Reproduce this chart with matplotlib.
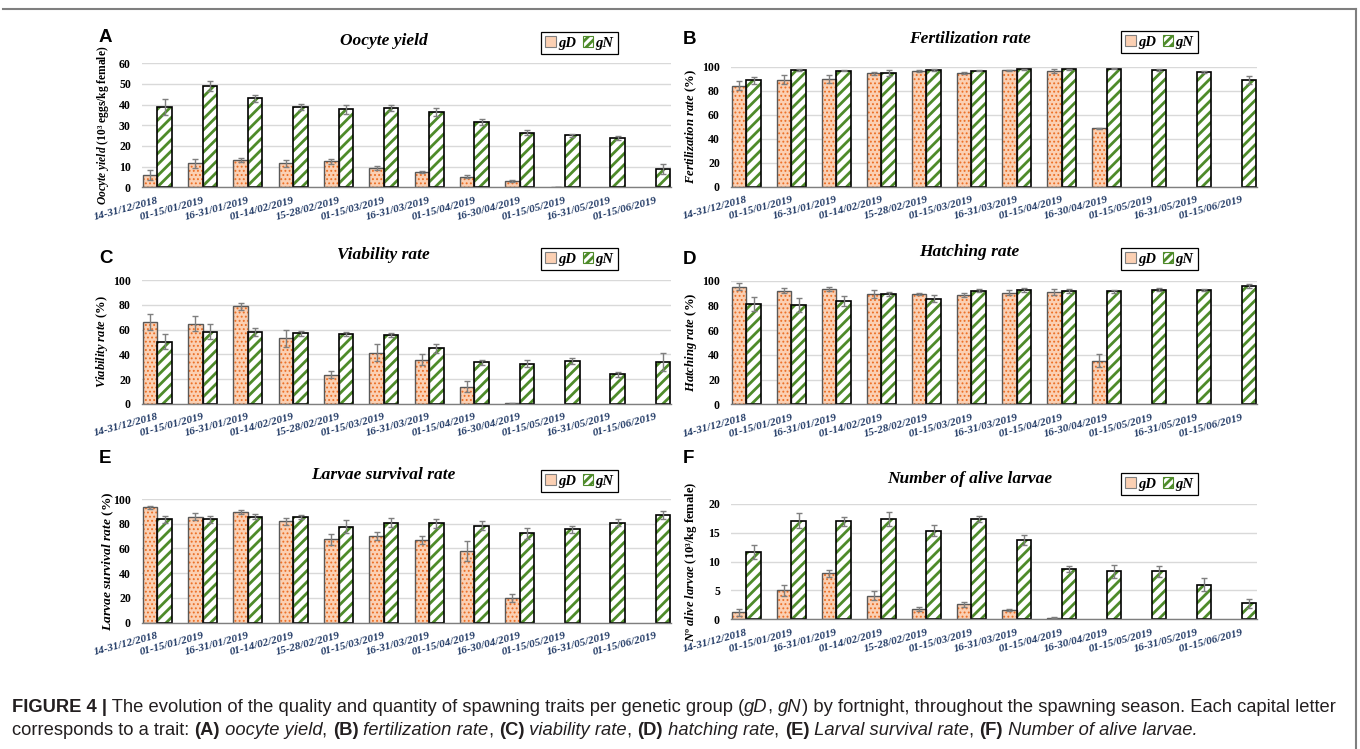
"""
Figure 4: spawning traits per genetic group (gD, gN) by fortnight
"""
import numpy as np
import matplotlib
matplotlib.use('Agg')
import matplotlib.pyplot as plt
from matplotlib.patches import Patch
from matplotlib.lines import Line2D

nan = np.nan

dates = ['14-31/12/2018', '01-15/01/2019', '16-31/01/2019', '01-14/02/2019',
         '15-28/02/2019', '01-15/03/2019', '16-31/03/2019', '01-15/04/2019',
         '16-30/04/2019', '01-15/05/2019', '16-31/05/2019', '01-15/06/2019']

# (A) oocyte yield, 10^3 eggs/kg female
oocyte_gd = [5.8, 11.6, 13.1, 11.6, 12.6, 9.4, 7.6, 5.2, 2.9, 0.2, nan, nan]
oocyte_gd_err = [2.4, 2.3, 1.1, 1.8, 1.2, 0.9, 0.5, 0.6, 0.4, 0.1, nan, nan]
oocyte_gn = [39.0, 48.9, 43.1, 38.7, 37.7, 38.2, 36.5, 31.5, 26.5, 25.2, 23.7, 9.0]
oocyte_gn_err = [3.9, 2.4, 1.6, 1.5, 2.0, 1.5, 1.9, 1.4, 1.2, 0.8, 1.0, 2.5]

# (B) fertilization rate, %
fert_gd = [84.2, 89.2, 89.7, 94.4, 96.1, 95.0, 96.9, 96.7, 48.6, nan, nan, nan]
fert_gd_err = [4.0, 3.8, 3.0, 1.2, 0.8, 0.8, 0.6, 1.6, 0.3, nan, nan, nan]
fert_gn = [88.6, 96.9, 96.7, 94.7, 97.2, 96.7, 97.8, 97.8, 98.3, 97.2, 95.3, 88.6]
fert_gn_err = [3.0, 0.8, 0.7, 2.8, 0.8, 0.7, 0.5, 0.5, 0.3, 0.5, 0.8, 3.3]

# (C) viability rate, %
viab_gd = [65.9, 64.8, 78.8, 53.0, 23.7, 41.4, 35.8, 14.0, 0.6, nan, nan, nan]
viab_gd_err = [6.4, 6.2, 3.0, 7.0, 3.0, 6.7, 4.5, 4.3, 0.2, nan, nan, nan]
viab_gn = [50.3, 58.3, 58.3, 57.0, 56.5, 55.4, 44.9, 33.6, 32.5, 34.9, 23.9, 34.0]
viab_gn_err = [5.9, 6.2, 3.3, 2.1, 1.8, 1.6, 3.5, 1.9, 2.7, 2.5, 2.1, 7.0]

# (D) hatching rate, %
hatch_gd = [95.1, 91.9, 93.3, 88.9, 89.5, 88.1, 90.3, 91.1, 35.3, nan, nan, nan]
hatch_gd_err = [2.7, 2.2, 1.3, 3.3, 0.8, 1.6, 1.9, 2.4, 5.4, nan, nan, nan]
hatch_gn = [80.9, 80.3, 83.6, 89.2, 85.4, 91.9, 92.7, 91.9, 91.4, 92.7, 92.7, 95.7]
hatch_gn_err = [5.7, 5.7, 3.8, 1.6, 2.7, 1.1, 1.6, 1.6, 1.1, 1.1, 0.8, 1.3]

# (E) larvae survival rate, %
surv_gd = [93.3, 85.7, 89.5, 81.9, 67.4, 70.1, 67.1, 58.0, 19.7, nan, nan, nan]
surv_gd_err = [1.3, 2.7, 1.9, 3.0, 4.3, 3.5, 3.3, 8.0, 3.2, nan, nan, nan]
surv_gn = [83.6, 83.6, 85.7, 85.4, 77.6, 80.9, 80.3, 78.4, 72.2, 75.5, 81.0, 87.0]
surv_gn_err = [2.7, 2.9, 2.2, 1.9, 5.1, 3.5, 3.5, 3.8, 4.6, 3.0, 2.5, 3.5]

# (F) number of alive larvae, 10^3/kg female
alive_gd = [1.2, 5.0, 8.0, 4.1, 1.8, 2.6, 1.6, 0.3, nan, nan, nan, nan]
alive_gd_err = [0.6, 0.9, 0.6, 0.8, 0.3, 0.4, 0.2, 0.05, nan, nan, nan, nan]
alive_gn = [11.7, 17.1, 17.0, 17.4, 15.4, 17.4, 13.8, 8.7, 8.3, 8.3, 6.0, 2.8]
alive_gn_err = [1.2, 1.3, 0.8, 1.2, 0.9, 0.6, 0.9, 0.5, 1.2, 1.0, 1.1, 0.8]

W, H = 1360, 749
PEACH = '#fbd0b3'
ORANGE = '#ec6f25'
GREEN = '#4e8b2a'
NAVY = '#1f3864'
SERIF = 'Liberation Serif'
SANS = 'Liberation Sans'

plt.rcParams['mathtext.fontset'] = 'custom'
plt.rcParams['mathtext.rm'] = 'Liberation Serif:bold'
plt.rcParams['mathtext.it'] = 'Liberation Serif:italic:bold'
plt.rcParams['mathtext.bf'] = 'Liberation Serif:bold'
plt.rcParams['hatch.linewidth'] = 2.0


def fx(x):
    return x / W


def fy(y):
    return 1 - y / H


def hatch_lw(bars, lw):
    # per-artist hatch width where matplotlib supports it
    for p in bars:
        if hasattr(p, 'set_hatch_linewidth'):
            p.set_hatch_linewidth(lw)


def draw_panel(fig, rect, gd, gd_err, gn, gn_err, yticks, ylabel, ylabel_x,
               ylabel_size, title, title_xy, letter, letter_xy, legend_xy):
    left, right, top, bottom = rect
    ax = fig.add_axes([fx(left), fy(bottom), (right - left) / W, (bottom - top) / H])
    x = np.arange(len(dates))
    w = 0.32
    gd = np.array(gd, dtype=float)
    gn = np.array(gn, dtype=float)

    # hatched fills first, outlines on top
    b = ax.bar(x - w / 2, gd, w, color=PEACH, hatch='....', edgecolor=ORANGE,
               linewidth=0, zorder=2)
    hatch_lw(b, 0.85)
    ax.bar(x - w / 2, gd, w, fill=False, edgecolor='#595959', linewidth=1.0, zorder=3)
    ax.bar(x + w / 2, gn, w, color='white', hatch='///', edgecolor=GREEN,
           linewidth=0, zorder=2)
    ax.bar(x + w / 2, gn, w, fill=False, edgecolor='black', linewidth=1.2, zorder=3)
    ax.errorbar(x - w / 2, gd, yerr=gd_err, fmt='none', ecolor='#7f7f7f',
                elinewidth=1.0, capsize=2.5, capthick=1.0, zorder=4)
    ax.errorbar(x + w / 2, gn, yerr=gn_err, fmt='none', ecolor='#7f7f7f',
                elinewidth=1.0, capsize=2.5, capthick=1.0, zorder=4)

    ax.set_xlim(-0.34, 11.34)
    ax.set_ylim(yticks[0], yticks[-1])
    ax.set_yticks(yticks)
    ax.set_yticklabels([str(v) for v in yticks], fontfamily=SERIF,
                       fontweight='bold', fontsize=8.5)
    ax.set_xticks(x)
    ax.set_xticklabels(dates, rotation=15, ha='right', rotation_mode='anchor',
                       fontfamily=SERIF, fontweight='bold', fontstyle='italic',
                       fontsize=8, color=NAVY)
    ax.tick_params(axis='both', length=0)
    ax.tick_params(axis='x', pad=6)
    ax.tick_params(axis='y', pad=8)
    ax.grid(axis='y', color='#d9d9d9', linewidth=1.0, zorder=0)
    ax.set_axisbelow(True)
    for s in ['top', 'right', 'left']:
        ax.spines[s].set_visible(False)
    ax.spines['bottom'].set_color('#7f7f7f')
    ax.spines['bottom'].set_linewidth(1.0)
    ax.spines['bottom'].set_zorder(5)

    fig.text(fx(ylabel_x), fy((top + bottom) / 2), ylabel, rotation=90,
             ha='center', va='center', fontfamily=SERIF, fontweight='bold',
             fontsize=ylabel_size)
    fig.text(fx(title_xy[0]), fy(title_xy[1]), title, ha='center', va='baseline',
             fontfamily=SERIF, fontweight='bold', fontstyle='italic', fontsize=12.5)
    fig.text(fx(letter_xy[0]), fy(letter_xy[1]), letter, ha='left', va='baseline',
             fontfamily=SANS, fontweight='bold', fontsize=13.5)

    handles = [Patch(facecolor=PEACH, edgecolor='#7f7f7f', linewidth=0.8),
               Patch(facecolor='white', edgecolor=GREEN, hatch='////', linewidth=0.8)]
    leg = fig.legend(handles, ['gD', 'gN'], loc='upper left',
                     bbox_to_anchor=(fx(legend_xy[0]), fy(legend_xy[1])),
                     bbox_transform=fig.transFigure, ncol=2, frameon=True,
                     fancybox=False, framealpha=1, edgecolor='black',
                     handlelength=0.7, handleheight=0.7, handletextpad=0.15,
                     columnspacing=0.5, borderpad=0.3, borderaxespad=0,
                     prop={'family': SERIF, 'weight': 'bold', 'style': 'italic',
                           'size': 10.5})
    leg.get_frame().set_linewidth(0.9)
    return ax


def text_width(fig, renderer, s, **kw):
    # width of s including any edge spaces, measured between two sentinels
    t1 = fig.text(0, 0, 'x' + s + 'x', **kw)
    t2 = fig.text(0, 0, 'xx', **kw)
    w = t1.get_window_extent(renderer).width - t2.get_window_extent(renderer).width
    t1.remove()
    t2.remove()
    return w


def rich_line(fig, x, y, pieces, size):
    renderer = fig.canvas.get_renderer()
    xpx = x
    for s, weight, style in pieces:
        kw = dict(fontfamily=SANS, fontweight=weight, fontstyle=style,
                  fontsize=size, color='#231f20')
        fig.text(fx(xpx), fy(y), s, ha='left', va='baseline', **kw)
        xpx += text_width(fig, renderer, s, **kw)


fig = plt.figure(figsize=(W / 100, H / 100), dpi=100)

# outer frame of the figure panel
fig.add_artist(Line2D([fx(3), fx(1356)], [fy(9), fy(9)], color='#7f7f7f',
                      linewidth=1.5, transform=fig.transFigure))
fig.add_artist(Line2D([fx(1356), fx(1356)], [fy(9), 0], color='#7f7f7f',
                      linewidth=1.5, transform=fig.transFigure))

draw_panel(fig, (142, 671, 63.3, 187.3), oocyte_gd, oocyte_gd_err, oocyte_gn,
           oocyte_gn_err, [0, 10, 20, 30, 40, 50, 60],
           r'$\mathit{Oocyte\ yield}$ (10³ eggs/kg female)', 103, 8.3,
           'Oocyte yield', (383.5, 45), 'A', (99, 42), (541, 32))
draw_panel(fig, (731, 1257, 66.7, 186.7), fert_gd, fert_gd_err, fert_gn,
           fert_gn_err, [0, 20, 40, 60, 80, 100],
           r'$\mathit{Fertilization\ rate\ (\%)}$', 691, 9.2,
           'Fertilization rate', (970, 43), 'B', (683, 44), (1121, 31))
draw_panel(fig, (142, 671, 280, 404), viab_gd, viab_gd_err, viab_gn,
           viab_gn_err, [0, 20, 40, 60, 80, 100],
           r'$\mathit{Viability\ rate\ (\%)}$', 102, 9.0,
           'Viability rate', (383, 259), 'C', (99, 263), (541, 248))
draw_panel(fig, (731, 1257, 280.7, 404.3), hatch_gd, hatch_gd_err, hatch_gn,
           hatch_gn_err, [0, 20, 40, 60, 80, 100],
           r'$\mathit{Hatching\ rate\ (\%)}$', 691, 9.2,
           'Hatching rate', (969, 256), 'D', (683, 264), (1121, 248))
draw_panel(fig, (142, 671, 499, 622.7), surv_gd, surv_gd_err, surv_gn,
           surv_gn_err, [0, 20, 40, 60, 80, 100],
           r'$\mathit{Larvae\ survival\ rate\ (\%)}$', 108, 9.7,
           'Larvae survival rate', (383.5, 479), 'E', (99, 463), (541, 470))
draw_panel(fig, (731, 1257, 504, 619.3), alive_gd, alive_gd_err, alive_gn,
           alive_gn_err, [0, 5, 10, 15, 20],
           r'$\mathit{N}$º $\mathit{alive\ larvae}$ (10³/kg female)', 691, 9.0,
           'Number of alive larvae', (970, 483), 'F', (683, 463), (1121, 473))

rich_line(fig, 12, 712, [
    ('FIGURE 4 |', 'bold', 'normal'),
    (' The evolution of the quality and quantity of spawning traits per genetic group (',
     'normal', 'normal'),
    ('gD', 'normal', 'italic'), (', ', 'normal', 'normal'),
    ('gN', 'normal', 'italic'),
    (') by fortnight, throughout the spawning season. Each capital letter',
     'normal', 'normal'),
], 13.25)
rich_line(fig, 12, 735, [
    ('corresponds to a trait: ', 'normal', 'normal'),
    ('(A)', 'bold', 'normal'), (' oocyte yield', 'normal', 'italic'),
    (', ', 'normal', 'normal'),
    ('(B)', 'bold', 'normal'), (' fertilization rate', 'normal', 'italic'),
    (', ', 'normal', 'normal'),
    ('(C)', 'bold', 'normal'), (' viability rate', 'normal', 'italic'),
    (', ', 'normal', 'normal'),
    ('(D)', 'bold', 'normal'), (' hatching rate', 'normal', 'italic'),
    (', ', 'normal', 'normal'),
    ('(E)', 'bold', 'normal'), (' Larval survival rate', 'normal', 'italic'),
    (', ', 'normal', 'normal'),
    ('(F)', 'bold', 'normal'), (' Number of alive larvae.', 'normal', 'italic'),
], 13.25)

fig.savefig('out.png', dpi=100)
